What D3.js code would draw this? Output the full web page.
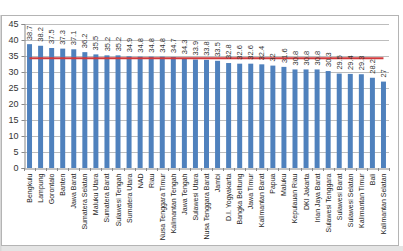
<!DOCTYPE html>
<html>
<head>
<meta charset="utf-8">
<script src="https://cdn.jsdelivr.net/npm/d3@7"></script>
<style>
  body { margin: 0; background: #fff; }
  svg { display: block; font-family: "Liberation Sans", Arial, sans-serif; }
</style>
</head>
<body>
<div id="chart"></div>
<script>
// provinces, sorted by value
var provinces = ["Bengkulu", "Lampung", "Gorontalo", "Banten", "Jawa Barat", "Sumatera Selatan",
  "Maluku Utara", "Sumatera Barat", "Sulawesi Tengah", "Sumatera Utara", "NAD", "Riau",
  "Nusa Tenggara Timur", "Kalimantan Tengah", "Jawa Tengah", "Sulawesi Utara", "Nusa Tenggara Barat",
  "Jambi", "D.I. Yogyakarta", "Bangka Belitung", "Jawa Timur", "Kalimantan Barat", "Papua", "Maluku",
  "Kepulauan Riau", "DKI Jakarta", "Irian Jaya Barat", "Sulawesi Tenggara", "Sulawesi Barat",
  "Sulawesi Selatan", "Kalimantan Timur", "Bali", "Kalimantan Selatan"];
var values = [38.7, 38.2, 37.5, 37.3, 37.1, 36.2, 35.5, 35.2, 35.2, 34.9, 34.8, 34.8,
  34.8, 34.7, 34.3, 33.9, 33.8, 33.5, 32.8, 32.6, 32.6, 32.4, 32, 31.6,
  30.8, 30.8, 30.8, 30.3, 29.5, 29.4, 29.3, 28.2, 27];
var refValue = 34.3;
var yTicks = [0, 5, 10, 15, 20, 25, 30, 35, 40, 45];

var W = 403, H = 251;
var plot = {left: 24, right: 389, top: 24, bottom: 168};

var svg = d3.select("#chart").append("svg")
  .attr("width", W)
  .attr("height", H);

// frame + shadow strip
svg.append("rect").attr("x", 0).attr("y", 246).attr("width", W).attr("height", 5).attr("fill", "#e4e4e4");
svg.append("rect").attr("x", 0).attr("y", 15).attr("width", 1.5).attr("height", 236).attr("fill", "#d8d8d8");
svg.append("rect")
  .attr("x", 1.5).attr("y", 15.5)
  .attr("width", 397).attr("height", 230)
  .attr("fill", "#fff")
  .attr("stroke", "#b4b4b4");

var data = provinces.map(function(p, i) { return {name: p, value: values[i]}; });

// scales
var x = d3.scaleBand()
  .domain(provinces)
  .range([plot.left, plot.right])
  .paddingInner(0.55)
  .paddingOuter(0.275);

var y = d3.scaleLinear()
  .domain([0, 45])
  .range([plot.bottom, plot.top]);

// gridlines
svg.append("g")
  .selectAll("line")
  .data(yTicks.filter(function(d) { return d > 0; }))
  .enter().append("line")
  .attr("x1", plot.left).attr("x2", plot.right)
  .attr("y1", function(d) { return Math.round(y(d)) + 0.5; })
  .attr("y2", function(d) { return Math.round(y(d)) + 0.5; })
  .attr("stroke", "#bdbdbd");

// bars
svg.append("g")
  .selectAll("rect")
  .data(data)
  .enter().append("rect")
  .attr("x", function(d) { return x(d.name); })
  .attr("width", x.bandwidth())
  .attr("y", function(d) { return y(d.value); })
  .attr("height", function(d) { return y(0) - y(d.value); })
  .attr("fill", "#4f81bd");

// reference line
var line = d3.line()
  .x(function(d) { return x(d.name) + x.bandwidth() / 2; })
  .y(function() { return y(refValue); });

svg.append("path")
  .datum(data)
  .attr("d", line)
  .attr("fill", "none")
  .attr("stroke", "#d0393b")
  .attr("stroke-width", 2);

// value labels
svg.append("g")
  .selectAll("text")
  .data(data)
  .enter().append("text")
  .attr("transform", function(d) {
    return "translate(" + (x(d.name) + x.bandwidth() / 2 + 2.6) + "," + (y(d.value) - 4) + ") rotate(-90)";
  })
  .attr("font-size", "7.5px")
  .attr("fill", "#333")
  .text(function(d) { return d.value; });

// y axis
var yAxis = d3.axisLeft(y).tickValues(yTicks).tickSize(3).tickPadding(3);
var gy = svg.append("g")
  .attr("transform", "translate(" + (plot.left + 0.5) + ",0)")
  .call(yAxis);
gy.select(".domain").attr("stroke", "#888");
gy.selectAll(".tick line").attr("stroke", "#888");
gy.selectAll(".tick text").attr("font-size", "9px").attr("fill", "#333")
  .attr("font-family", "'Liberation Sans', Arial, sans-serif");

// x axis
var xAxis = d3.axisBottom(x).tickSize(0).tickSizeOuter(0);
var gx = svg.append("g")
  .attr("transform", "translate(0," + (plot.bottom + 0.5) + ")")
  .call(xAxis);
gx.select(".domain").attr("stroke", "#888");
gx.selectAll(".tick text")
  .attr("font-size", "7px")
  .attr("fill", "#222")
  .attr("font-family", "'Liberation Sans', Arial, sans-serif")
  .attr("text-anchor", "end")
  .attr("dy", null)
  .attr("y", 0)
  .attr("transform", "translate(2.5,5) rotate(-90)");

// tick marks between categories
var step = x.step();
svg.append("g")
  .selectAll("line")
  .data(d3.range(provinces.length + 1))
  .enter().append("line")
  .attr("x1", function(i) { return Math.round(plot.left + i * step) + 0.5; })
  .attr("x2", function(i) { return Math.round(plot.left + i * step) + 0.5; })
  .attr("y1", plot.bottom)
  .attr("y2", plot.bottom + 3)
  .attr("stroke", "#888");
</script>
</body>
</html>
